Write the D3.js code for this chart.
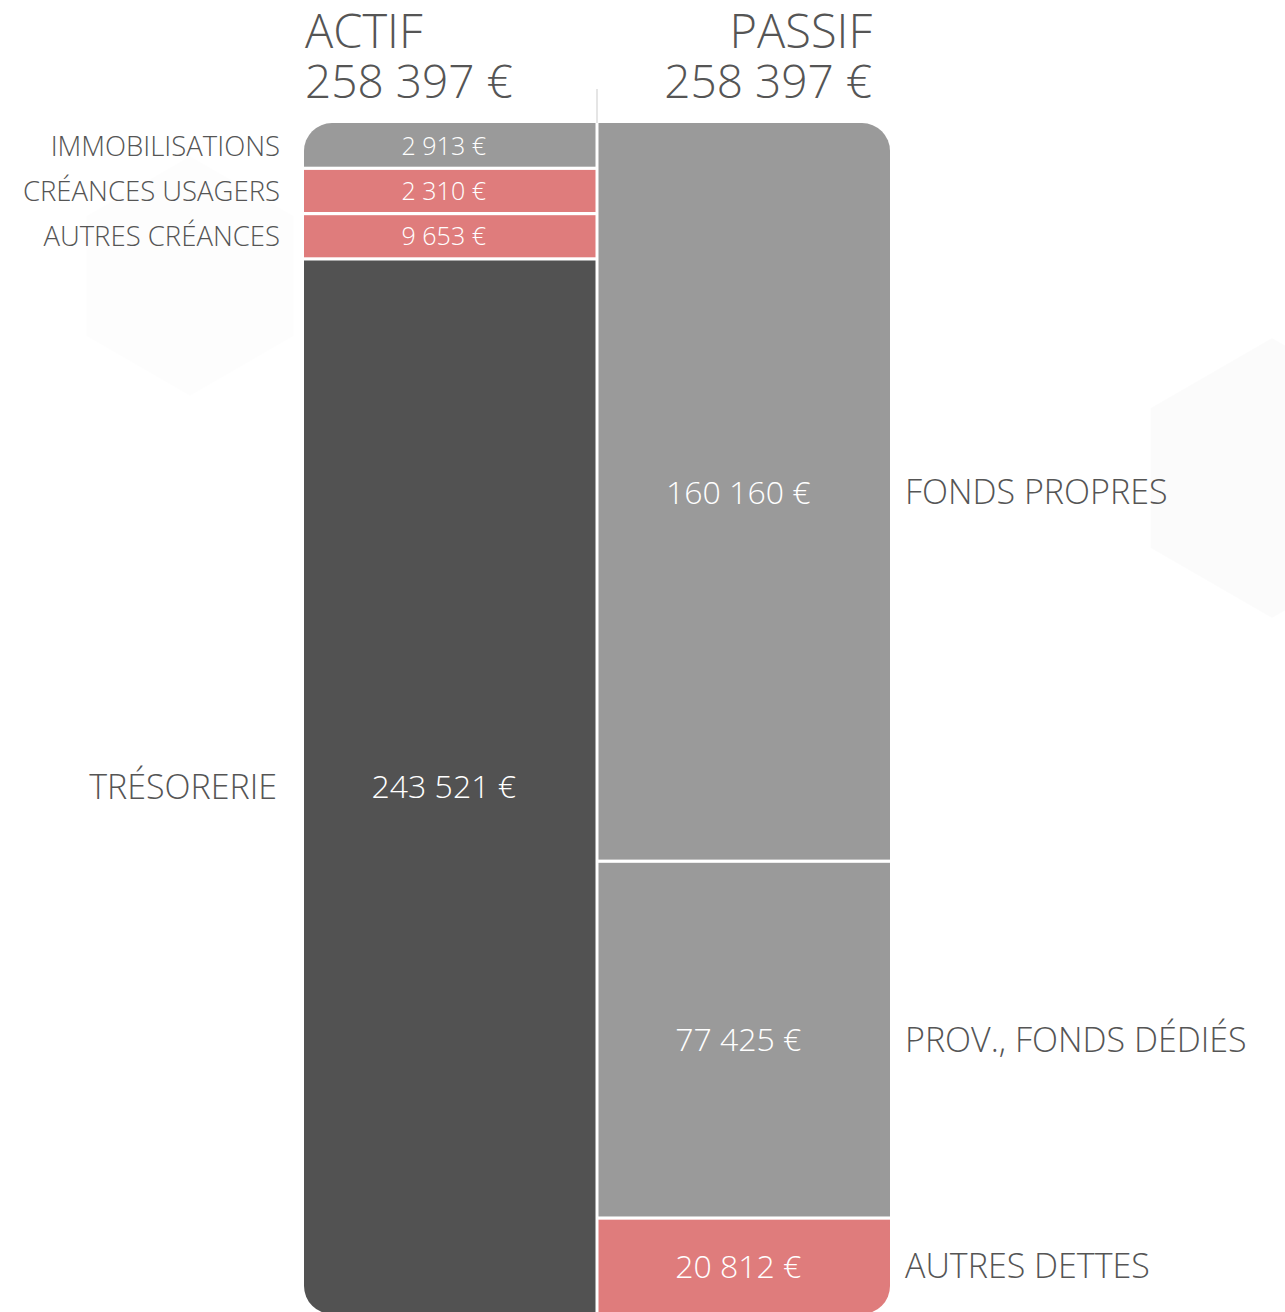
<!DOCTYPE html>
<html lang="fr">
<head>
<meta charset="utf-8">
<title>Bilan — Actif / Passif</title>
<script src="https://cdn.jsdelivr.net/npm/d3@7/dist/d3.min.js"></script>
<style>
  html, body { margin: 0; padding: 0; background: #ffffff; }
  svg { display: block; font-family: "Open Sans", "Segoe UI", sans-serif; font-weight: 300; }
</style>
</head>
<body>
<svg id="chart" width="1285" height="1312"></svg>
<script>
// Balance sheet: assets (actif) and liabilities (passif)
const actifLabels  = ["IMMOBILISATIONS", "CRÉANCES USAGERS", "AUTRES CRÉANCES", "TRÉSORERIE"];
const actifValues  = [2913, 2310, 9653, 243521];
const passifLabels = ["FONDS PROPRES", "PROV., FONDS DÉDIÉS", "AUTRES DETTES"];
const passifValues = [160160, 77425, 20812];
const columnTitles = ["ACTIF", "PASSIF"];

const colorOf = {
  "IMMOBILISATIONS": "#9a9a9a",
  "CRÉANCES USAGERS": "#df7c7c",
  "AUTRES CRÉANCES": "#df7c7c",
  "TRÉSORERIE": "#525252",
  "FONDS PROPRES": "#9a9a9a",
  "PROV., FONDS DÉDIÉS": "#9a9a9a",
  "AUTRES DETTES": "#df7c7c"
};

const fmt = v => d3.format(",")(v).replace(/,/g, " ") + " €";

const svg = d3.select("#chart");
const yTop = 123, yBottom = 1314;
const xLeft = 304, xRight = 890, colGap = 3, radius = 28;
const minSeg = 45.3;   // smallest drawn segment height
const sepW = 3.2;

// faint hexagon decorations in the background
function hexPath(cx, cy, r) {
  const pts = d3.range(6).map(i => {
    const a = Math.PI / 3 * i - Math.PI / 2;
    return [cx + r * Math.cos(a), cy + r * Math.sin(a)];
  });
  return d3.line().curve(d3.curveLinearClosed)(pts);
}
svg.append("path").attr("d", hexPath(1272, 478, 140))
  .attr("fill", "#000").attr("fill-opacity", 0.016);
svg.append("path").attr("d", hexPath(190, 276, 120))
  .attr("fill", "#000").attr("fill-opacity", 0.008);

// column positions
const x = d3.scaleBand().domain(columnTitles).range([xLeft, xRight + colGap]).paddingInner(0);
const colX0 = c => x(c);
const colX1 = c => x(c) + x.bandwidth() - colGap;

// vertical layout: proportional, with a minimum height for tiny segments
function layout(labels, values) {
  const total = d3.sum(values);
  const y = d3.scaleLinear().domain([0, total]).range([0, yBottom - yTop]);
  const small = values.map(v => y(v) < minSeg);
  const fixed = d3.sum(values.filter((v, i) => small[i]).map(() => minSeg));
  const restTotal = d3.sum(values.filter((v, i) => !small[i]));
  const yRest = d3.scaleLinear().domain([0, restTotal]).range([0, yBottom - yTop - fixed]);
  let acc = yTop;
  return labels.map((lab, i) => {
    const h = small[i] ? minSeg : yRest(values[i]);
    const seg = { label: lab, value: values[i], y0: acc, y1: acc + h };
    acc += h;
    return seg;
  });
}

const columns = [
  { title: "ACTIF", segs: layout(actifLabels, actifValues), side: "left" },
  { title: "PASSIF", segs: layout(passifLabels, passifValues), side: "right" }
];

// rounded outline shared by both columns
svg.append("clipPath").attr("id", "clip")
  .append("rect")
  .attr("x", xLeft).attr("y", yTop)
  .attr("width", xRight - xLeft).attr("height", yBottom - yTop)
  .attr("rx", radius).attr("ry", radius);

// divider above the columns
const divX = colX1("ACTIF") + colGap / 2;
svg.append("line")
  .attr("x1", divX).attr("x2", divX)
  .attr("y1", 89).attr("y2", yTop)
  .attr("stroke", "#dcdcdc").attr("stroke-width", 1.5);

const g = svg.append("g").attr("clip-path", "url(#clip)");
const isSmall = d => (d.y1 - d.y0) < 60;

columns.forEach(col => {
  const x0 = colX0(col.title), x1 = colX1(col.title);
  const n = col.segs.length;
  g.selectAll(null).data(col.segs).enter().append("rect")
    .attr("x", x0).attr("width", x1 - x0)
    .attr("y", (d, i) => i === 0 ? d.y0 : d.y0 + sepW / 2)
    .attr("height", (d, i) => (d.y1 - d.y0) - (i === 0 ? 0 : sepW / 2) - (i === n - 1 ? 0 : sepW / 2))
    .attr("fill", d => colorOf[d.label]);

  // value inside each segment
  const cx = (x0 + x1) / 2 - 6;
  svg.selectAll(null).data(col.segs).enter().append("text")
    .attr("x", cx)
    .attr("y", d => (d.y0 + d.y1) / 2)
    .attr("dy", "0.36em")
    .attr("text-anchor", "middle")
    .attr("fill", "#ffffff")
    .attr("font-size", d => isSmall(d) ? 25 : 32)
    .text(d => fmt(d.value));

  // category label beside the column
  svg.selectAll(null).data(col.segs).enter().append("text")
    .attr("x", d => col.side === "left" ? x0 - (isSmall(d) ? 24 : 27) : x1 + 15)
    .attr("y", d => (d.y0 + d.y1) / 2)
    .attr("dy", "0.36em")
    .attr("text-anchor", col.side === "left" ? "end" : "start")
    .attr("fill", "#555555")
    .attr("font-size", d => isSmall(d) ? 27.5 : 34)
    .text(d => d.label);

  // column header: title and total
  const hx = col.side === "left" ? x0 + 1 : x1 - 18;
  const anchor = col.side === "left" ? "start" : "end";
  svg.append("text").attr("x", hx).attr("y", 48)
    .attr("text-anchor", anchor).attr("fill", "#555555").attr("font-size", 47)
    .text(col.title);
  svg.append("text").attr("x", hx).attr("y", 98)
    .attr("text-anchor", anchor).attr("fill", "#555555").attr("font-size", 46)
    .text(fmt(d3.sum(col.segs, d => d.value)));
});
</script>
</body>
</html>
